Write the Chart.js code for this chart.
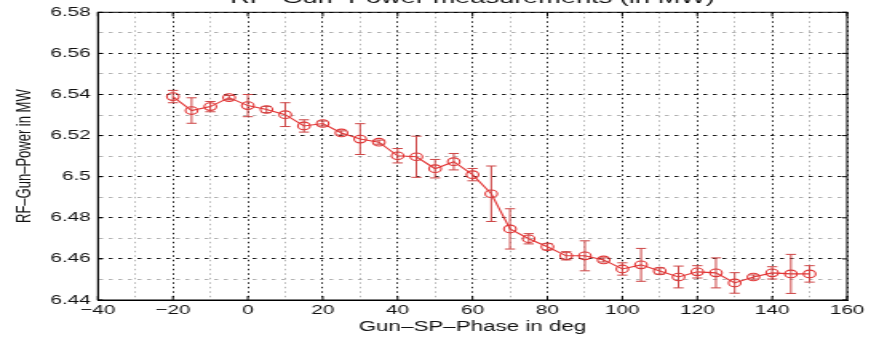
<!DOCTYPE html>
<html><head><meta charset="utf-8">
<script src="https://cdn.jsdelivr.net/npm/chart.js@4.4.1/dist/chart.umd.min.js"></script>
<style>
html,body{margin:0;padding:0;background:#fff;}
#wrap{position:relative;width:879px;height:339px;overflow:hidden;background:#fff;}
#c{position:absolute;left:0;top:-20px;transform-origin:0 0;transform:scaleX(1.5982);}
</style></head><body>
<div id="wrap"><canvas id="c" width="550" height="359"></canvas></div>
<script>
// ---- data ----
const phase = [-20,-15,-10,-5,0,5,10,15,20,25,30,35,40,45,50,55,60,65,70,75,80,85,90,95,100,105,110,115,120,125,130,135,140,145,150];
const power = [6.5390,6.5322,6.5341,6.5385,6.5346,6.5327,6.5302,6.5247,6.5259,6.5213,6.5183,6.5168,6.5102,6.5097,6.5039,6.5073,6.5010,6.4917,6.4746,6.4698,6.4659,6.4615,6.4615,6.4595,6.4551,6.4571,6.4541,6.4512,6.4537,6.4532,6.4483,6.4512,6.4532,6.4527,6.4527];
const powerErr = [0.0030,0.0062,0.0025,0.0010,0.0054,0.0015,0.0058,0.0030,0.0012,0.0010,0.0075,0.0010,0.0035,0.0100,0.0045,0.0040,0.0030,0.0135,0.0098,0.0025,0.0015,0.0020,0.0073,0.0010,0.0030,0.0080,0.0015,0.0053,0.0030,0.0073,0.0050,0.0010,0.0030,0.0095,0.0040];
const xMajor = [-40,-20,0,20,40,60,80,100,120,140,160];
const xTickLabels = ['\u221240','\u221220','0','20','40','60','80','100','120','140','160'];
const yMajor = [6.44,6.46,6.48,6.50,6.52,6.54,6.56,6.58];
const yTickLabels = ['6.44','6.46','6.48','6.5','6.52','6.54','6.56','6.58'];
const titleText = 'RF\u2013Gun\u2013Power measurements (in MW)';
const xTitle = 'Gun\u2013SP\u2013Phase in deg';
const yTitle = 'RF\u2013Gun\u2013Power in MW';

// ---- styling ----
const FONT = 'Liberation Sans, Arial, Helvetica, sans-serif';
const RED = 'rgb(226,52,52)';
const ERR = 'rgb(205,70,70)';

function withMinor(major){
  const out = [];
  major.forEach((v,i)=>{
    out.push({value:v, major:true, label:i});
    if(i<major.length-1) out.push({value:(v+major[i+1])/2, major:false});
  });
  return out;
}
const xTickSet = withMinor(xMajor);
const yTickSet = withMinor(yMajor);

const errorBars = {
  id:'errorBars',
  afterDatasetsDraw(chart){
    const {ctx, scales:{x,y}} = chart;
    const cap = 3.2;
    ctx.save();
    ctx.strokeStyle = ERR; ctx.lineWidth = 1;
    phase.forEach((p,i)=>{
      const px = x.getPixelForValue(p);
      const t = y.getPixelForValue(power[i]+powerErr[i]);
      const b = y.getPixelForValue(power[i]-powerErr[i]);
      ctx.beginPath();
      ctx.moveTo(px,t); ctx.lineTo(px,b);
      ctx.moveTo(px-cap,t); ctx.lineTo(px+cap,t);
      ctx.moveTo(px-cap,b); ctx.lineTo(px+cap,b);
      ctx.stroke();
    });
    ctx.restore();
  }
};

const boxAndTicks = {
  id:'boxAndTicks',
  afterDraw(chart){
    const {ctx, chartArea:a, scales:{x,y}} = chart;
    ctx.save();
    ctx.strokeStyle = '#000'; ctx.lineWidth = 1;
    ctx.strokeRect(a.left, a.top, a.right-a.left, a.bottom-a.top);
    ctx.beginPath();
    xMajor.forEach(v=>{
      const px = x.getPixelForValue(v);
      ctx.moveTo(px,a.bottom); ctx.lineTo(px,a.bottom-4);
      ctx.moveTo(px,a.top); ctx.lineTo(px,a.top+4);
    });
    yMajor.forEach(v=>{
      const py = y.getPixelForValue(v);
      ctx.moveTo(a.left,py); ctx.lineTo(a.left+3,py);
      ctx.moveTo(a.right,py); ctx.lineTo(a.right-3,py);
    });
    ctx.stroke();
    ctx.restore();
  }
};

new Chart(document.getElementById('c'), {
  type:'line',
  data:{datasets:[{
    data: phase.map((p,i)=>({x:p, y:power[i]})),
    borderColor: RED, borderWidth: 1.1,
    pointStyle:'circle', pointRadius: 3.8, pointBorderColor: RED,
    pointBackgroundColor:'rgba(0,0,0,0)', pointBorderWidth: 1.1,
    tension: 0, clip: false
  }]},
  options:{
    responsive:false, animation:false, devicePixelRatio:1,
    layout:{padding:{left:0,right:20,top:0,bottom:0}},
    plugins:{
      legend:{display:false}, tooltip:{enabled:false},
      title:{display:true, fullSize:false, text:titleText, color:'#111',
        font:{family:FONT, size:17, weight:'normal', lineHeight:1.2}, padding:{top:7.8,bottom:4.1}}
    },
    scales:{
      x:{type:'linear', min:-40, max:160,
        afterBuildTicks: s=>{ s.ticks = xTickSet.map(t=>({value:t.value})); },
        afterFit: s=>{ s.height = 39; },
        ticks:{autoSkip:false, maxRotation:0, padding:3, color:'#111',
          font:{family:FONT, size:13},
          callback:(v,i)=> xTickSet[i] && xTickSet[i].major ? xTickLabels[xTickSet[i].label] : ''},
        grid:{drawTicks:false, lineWidth:1,
          color: c=> (c.tick && xTickSet[c.index] && xTickSet[c.index].major) ? 'rgba(0,0,0,0.9)' : 'rgba(0,0,0,0.3)'},
        border:{display:true, color:'#000', width:1, dash:[1.5,3]},
        title:{display:true, text:xTitle, color:'#111', font:{family:FONT,size:14}, padding:{top:0,bottom:3}}
      },
      y:{type:'linear', min:6.44, max:6.58,
        afterBuildTicks: s=>{ s.ticks = yTickSet.map(t=>({value:t.value})); },
        afterFit: s=>{ s.width = 61.3; },
        ticks:{autoSkip:false, padding:4.5, color:'#111',
          font:{family:FONT, size:13},
          callback:(v,i)=> yTickSet[i] && yTickSet[i].major ? yTickLabels[yTickSet[i].label] : ''},
        grid:{drawTicks:false, lineWidth:1,
          color: c=> (c.tick && yTickSet[c.index] && yTickSet[c.index].major) ? 'rgba(0,0,0,0.9)' : 'rgba(0,0,0,0.3)'},
        border:{display:true, color:'#000', width:1, dash:[2.5,3.5]},
        title:{display:true, text:yTitle, color:'#111', font:{family:FONT,size:13}, padding:{top:8,bottom:0}}
      }
    }
  },
  plugins:[errorBars, boxAndTicks]
});
</script>
</body></html>
